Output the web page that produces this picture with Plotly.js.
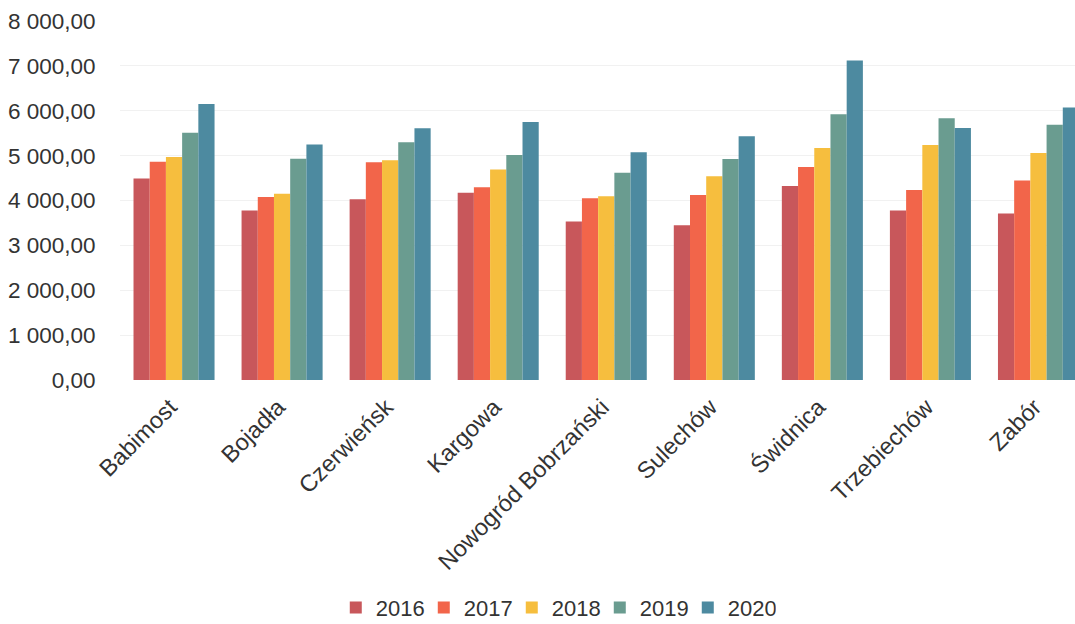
<!DOCTYPE html>
<html>
<head>
<meta charset="utf-8">
<script src="https://cdn.plot.ly/plotly-3.0.1.min.js"></script>
<style>html,body{margin:0;padding:0;background:#fff;}#chart{width:1075px;height:624px;}</style>
</head>
<body>
<div id="chart"></div>
<script>
const categories = ["Babimost", "Bojadła", "Czerwieńsk", "Kargowa", "Nowogród Bobrzański", "Sulechów", "Świdnica", "Trzebiechów", "Zabór"];
const years = ["2016", "2017", "2018", "2019", "2020"];
const v2016 = [4490, 3775, 4030, 4175, 3530, 3450, 4325, 3775, 3710];
const v2017 = [4865, 4080, 4850, 4295, 4050, 4125, 4745, 4235, 4445];
const v2018 = [4970, 4150, 4895, 4690, 4095, 4540, 5170, 5235, 5060];
const v2019 = [5510, 4930, 5300, 5015, 4620, 4925, 5920, 5835, 5690];
const v2020 = [6150, 5250, 5610, 5750, 5075, 5430, 7120, 5615, 6075];
const yTicks = [0, 1000, 2000, 3000, 4000, 5000, 6000, 7000, 8000];
const yTickLabels = ["0,00", "1 000,00", "2 000,00", "3 000,00", "4 000,00", "5 000,00", "6 000,00", "7 000,00", "8 000,00"];
const colors = ["#C8575B", "#F2654A", "#F6BE3E", "#6A9C90", "#4D8AA0"];

const series = [v2016, v2017, v2018, v2019, v2020];
const traces = series.map((vals, i) => ({
  type: "bar",
  name: years[i],
  x: categories,
  y: vals,
  marker: {color: colors[i], line: {width: 0}},
  hoverinfo: "x+y+name"
}));

const layout = {
  width: 1075,
  height: 624,
  margin: {l: 120, r: 0, t: 20.5, b: 244},
  paper_bgcolor: "#ffffff",
  plot_bgcolor: "#ffffff",
  barmode: "group",
  bargap: 0.25,
  bargroupgap: 0,
  font: {family: "Liberation Sans, Arial, sans-serif", size: 22, color: "#333333"},
  xaxis: {
    type: "category",
    range: [-0.5, 8.338],
    tickangle: -45,
    ticks: "outside",
    ticklen: 3,
    tickcolor: "rgba(0,0,0,0)",
    ticklabelshift: -4,
    showline: false,
    showgrid: false,
    zeroline: false,
    tickfont: {size: 23.5, color: "#333333"}
  },
  yaxis: {
    range: [0, 8000],
    tickvals: yTicks,
    ticktext: yTickLabels,
    ticks: "outside",
    ticklen: 19,
    tickcolor: "rgba(0,0,0,0)",
    showgrid: true,
    gridcolor: "#f1f1f1",
    gridwidth: 1,
    zeroline: false,
    showline: false,
    tickfont: {size: 22.5, color: "#333333"}
  },
  showlegend: true,
  legend: {
    orientation: "h",
    xref: "container",
    x: 0.517,
    xanchor: "center",
    yref: "container",
    y: 0.026,
    yanchor: "middle",
    font: {size: 22, color: "#333333"},
    itemwidth: 30,
    entrywidth: 43,
    entrywidthmode: "pixels",
    traceorder: "normal"
  }
};

Plotly.newPlot("chart", traces, layout, {displayModeBar: false, staticPlot: true});
</script>
</body>
</html>
